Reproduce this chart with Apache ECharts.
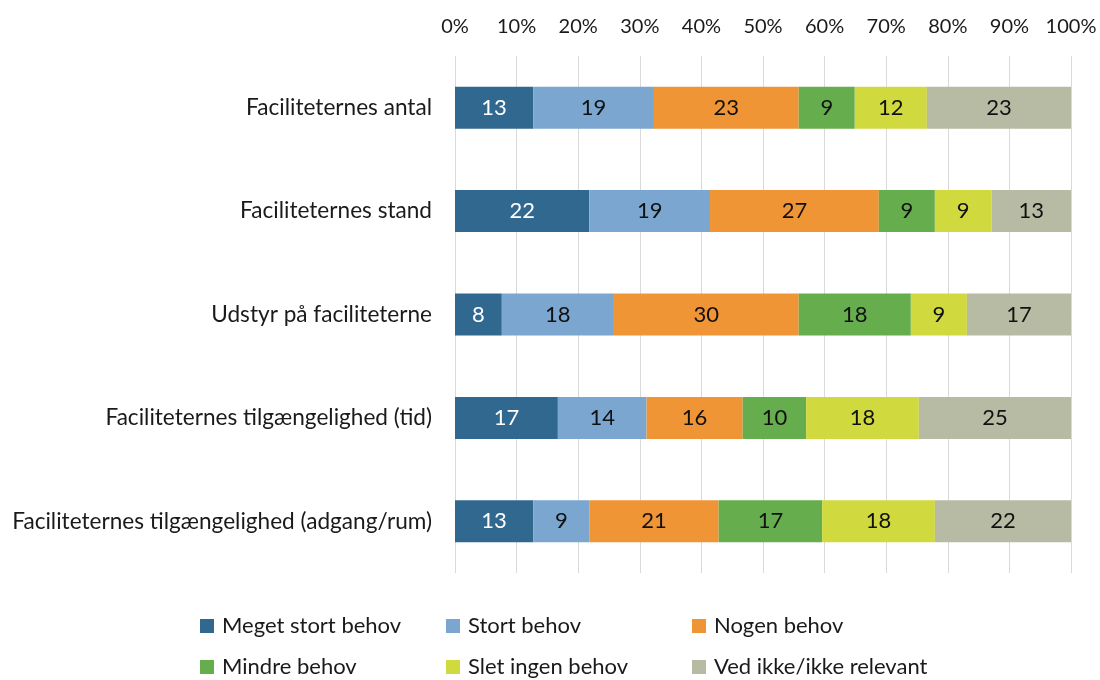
<!DOCTYPE html>
<html>
<head>
<meta charset="utf-8">
<script src="https://cdn.jsdelivr.net/npm/echarts@6/dist/echarts.min.js"></script>
<style>
  html, body { margin: 0; padding: 0; background: #fff; }
  #chart { width: 1100px; height: 680px; }
</style>
</head>
<body>
<div id="chart"></div>
<script>
// rækker, øverst først
const categories = [
    "Faciliteternes antal",
    "Faciliteternes stand",
    "Udstyr på faciliteterne",
    "Faciliteternes tilgængelighed (tid)",
    "Faciliteternes tilgængelighed (adgang/rum)"
];
const seriesNames = [
    "Meget stort behov", "Stort behov", "Nogen behov",
    "Mindre behov", "Slet ingen behov", "Ved ikke/ikke relevant"
];
const colors = ["#31688F", "#7AA6CF", "#EF9535", "#66AD4E", "#D0D93E", "#B8BBA3"];

// segmentbredder (andel i %)
const megetStort = [12.7, 21.8, 7.6, 16.7, 12.7];
const stort      = [19.6, 19.6, 18.2, 14.4, 9.1];
const nogen      = [23.5, 27.4, 30.0, 15.6, 21.0];
const mindre     = [9.1, 9.1, 18.2, 10.3, 16.8];
const sletIngen  = [11.7, 9.2, 9.1, 18.3, 18.3];
const vedIkke    = [23.4, 12.9, 16.9, 24.7, 22.1];

// tallene der står i søjlerne
const megetStortLbl = [13, 22, 8, 17, 13];
const stortLbl      = [19, 19, 18, 14, 9];
const nogenLbl      = [23, 27, 30, 16, 21];
const mindreLbl     = [9, 9, 18, 10, 17];
const sletIngenLbl  = [12, 9, 9, 18, 18];
const vedIkkeLbl    = [23, 13, 17, 25, 22];

const xTicks = [0, 10, 20, 30, 40, 50, 60, 70, 80, 90, 100];

const values = [megetStort, stort, nogen, mindre, sletIngen, vedIkke];
const labels = [megetStortLbl, stortLbl, nogenLbl, mindreLbl, sletIngenLbl, vedIkkeLbl];

const font = "Lato";
const txt = "#1a1a1a";
const legendPos = [[200, 615], [446, 615], [692, 615], [200, 656], [446, 656], [692, 656]];

const chart = echarts.init(document.getElementById("chart"));
chart.setOption({
    backgroundColor: "#fff",
    animation: false,
    textStyle: { fontFamily: font },
    grid: { left: 455, right: 29, top: 56, bottom: 107 },
    legend: seriesNames.map((name, i) => ({
        data: [name],
        left: legendPos[i][0],
        top: legendPos[i][1],
        padding: 0,
        icon: "rect",
        itemWidth: 14,
        itemHeight: 14,
        textStyle: { fontSize: 22, color: txt, fontFamily: font, padding: [0, 0, 0, 3] },
        selectedMode: false
    })),
    xAxis: {
        type: "value",
        position: "top",
        min: xTicks[0],
        max: xTicks[xTicks.length - 1],
        interval: 10,
        axisLine: { show: false },
        axisTick: { show: false },
        axisLabel: { formatter: "{value}%", fontSize: 20, color: txt, margin: 19 },
        splitLine: { show: true, lineStyle: { color: "#D9D9D9", width: 1 } }
    },
    yAxis: {
        type: "category",
        inverse: true,
        data: categories,
        axisLine: { show: false },
        axisTick: { show: false },
        axisLabel: { fontSize: 22.6, color: txt, margin: 23 }
    },
    series: seriesNames.map((name, i) => ({
        name: name,
        type: "bar",
        stack: "total",
        barWidth: 42,
        itemStyle: { color: colors[i] },
        label: {
            show: true,
            position: "inside",
            fontSize: 22,
            color: i === 0 ? "#fff" : "#111",
            formatter: (p) => String(labels[i][p.dataIndex])
        },
        data: values[i]
    }))
});
</script>
</body>
</html>
